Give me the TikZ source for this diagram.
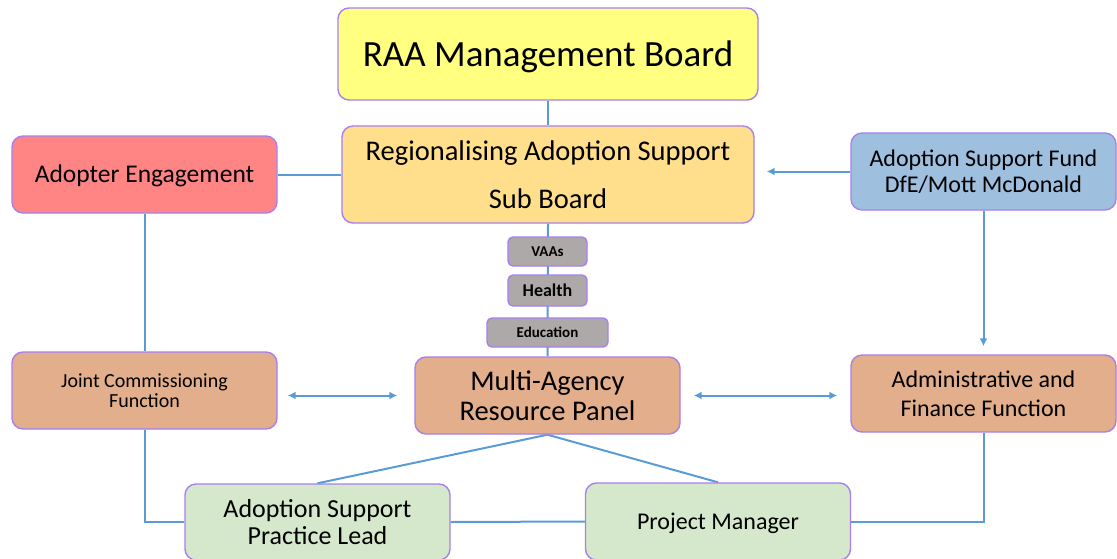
\documentclass[tikz,border=0pt]{standalone}
\usepackage{fontspec}
\setmainfont{Carlito}
\usetikzlibrary{arrows.meta,backgrounds}
\definecolor{linkblue}{HTML}{5B9BD5}
\definecolor{boxline}{HTML}{A77FEE}
\definecolor{boardyellow}{HTML}{FFFF80}
\definecolor{subyellow}{HTML}{FFDF8C}
\definecolor{adopterred}{HTML}{FF8585}
\definecolor{fundblue}{HTML}{9FBFDF}
\definecolor{functan}{HTML}{E2AE8B}
\definecolor{leadgreen}{HTML}{D6E8CB}
\definecolor{partnergrey}{HTML}{AEA9A9}
\newcommand{\fsz}[2]{\fontsize{#1}{#2}\selectfont}
\begin{document}
\begin{tikzpicture}[x=1pt,y=1pt,
    box/.style={draw=boxline, line width=1.4pt, rounded corners=11pt, align=center, inner sep=2pt},
    bigbox/.style={box, minimum width=265pt, minimum height=77pt},
    oneline/.style={text height=#1, text depth=0pt},
    partner/.style={box, fill=partnergrey, rounded corners=5pt, minimum height=29pt, font=\bfseries\fsz{15}{18}},
    link/.style={draw=linkblue, line width=2pt},
    tip/.style={link, -{Latex[length=8pt,width=8pt]}},
    both/.style={link, {Latex[length=8pt,width=8pt]}-{Latex[length=8pt,width=8pt]}}]
\useasboundingbox (0,0) rectangle (1117,-558);
%
      \node[box, fill=boardyellow, minimum width=420pt, minimum height=92pt, oneline=24pt, font=\fsz{37}{44}] (raa) at (548,-54) {RAA Management Board};
      \node[box, fill=subyellow, minimum width=412pt, minimum height=97pt, font=\fsz{28.5}{48}] (sub) at (548,-174.5) {Regionalising Adoption Support\\Sub Board};
      \node[bigbox, fill=adopterred, oneline=16.5pt, font=\fsz{25.5}{30}] (adopter) at (144.5,-174.5) {Adopter Engagement};
      \node[bigbox, fill=fundblue, font=\fsz{24}{26}] (fund) at (983.5,-171.5) {Adoption Support Fund\\DfE/Mott McDonald};
%
      \node[partner, minimum width=79pt] (vaas) at (547.5,-251.5) {VAAs};
      \node[partner, minimum width=79pt, minimum height=31pt, font=\bfseries\fsz{18}{20}] (health) at (547.5,-290.5) {Health};
      \node[partner, minimum width=121pt] (education) at (547.5,-332.5) {Education};
%
      \node[bigbox, fill=functan, font=\fsz{20}{20}] (joint) at (144.5,-390.5) {Joint Commissioning\\Function};
      \node[bigbox, fill=functan, font=\fsz{28.5}{30}] (multi) at (547.5,-395.5) {Multi-Agency\\Resource Panel};
      \node[bigbox, fill=functan, font=\fsz{24}{29}] (admin) at (983.5,-393.5) {Administrative and\\Finance Function};
%
      \node[bigbox, fill=leadgreen, minimum height=76pt, font=\fsz{26}{27}] (lead) at (317.5,-522) {Adoption Support\\Practice Lead};
      \node[bigbox, fill=leadgreen, minimum height=77pt, oneline=15.5pt, font=\fsz{24}{28}] (pm) at (718,-521.5) {Project Manager};
%
\begin{scope}[on background layer]
      \draw[link] (raa.south) -- (sub.north);
      \draw[link] (sub.south) -- (multi.north);
      \draw[link] (adopter.east) -- (sub.west);
      \draw[link] (adopter.south) -- (joint.north);
      \draw[link] (joint.south) |- (lead.west);
      \draw[link] (lead.east) -- (pm.west);
      \draw[link] (pm.east) -| (admin.south);
      \draw[link] (multi.south) -- (lead.north);
      \draw[link] (multi.south) -- (pm.north);
\end{scope}
%
      \draw[tip, shorten >=12pt] (fund.west) -- (fund.west -| sub.east);
      \draw[tip, shorten >=8pt] (fund.south) -- (admin.north);
      \draw[both, shorten <=10pt, shorten >=17pt] (multi.west -| joint.east) -- (multi.west);
      \draw[both, shorten <=13pt, shorten >=13pt] (multi.east) -- (multi.east -| admin.west);
\end{tikzpicture}
\end{document}
